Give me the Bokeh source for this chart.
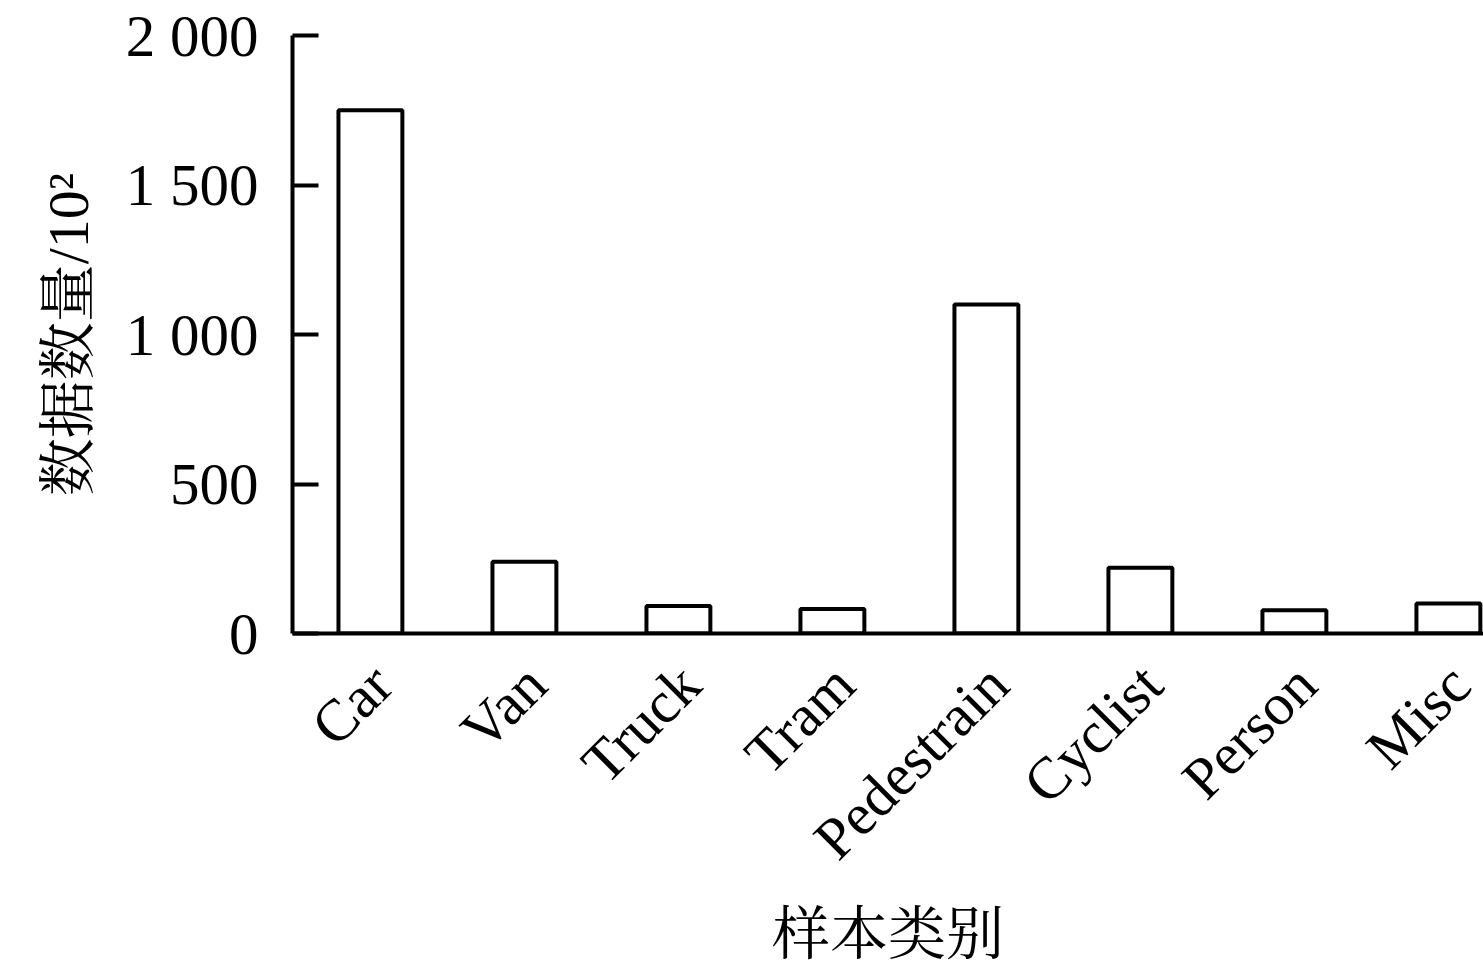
from bokeh.plotting import figure
from bokeh.models import Range1d, FixedTicker, ColumnDataSource
from bokeh.embed import file_html
from bokeh.resources import INLINE
import math

categories = ["Car", "Van", "Truck", "Tram", "Pedestrain", "Cyclist", "Person", "Misc"]
counts = [1750, 240, 92, 82, 1100, 220, 78, 100]
y_ticks = [0, 500, 1000, 1500, 2000]
y_tick_labels = ["0", "500", "1 000", "1 500", "2 000"]

x_pos = list(range(len(categories)))
src = ColumnDataSource(dict(x=x_pos, top=counts, name=categories))

SERIF = "Liberation Serif, Noto Serif CJK SC, Noto Sans CJK SC"
FS = "59px"

p = figure(width=1483, height=969, output_backend="svg", toolbar_location=None,
           x_range=Range1d(-0.506, 7.228), y_range=Range1d(0, 2000),
           min_border_left=292, min_border_right=0, min_border_top=35, min_border_bottom=0)
p.outline_line_color = None
p.xgrid.grid_line_color = None
p.ygrid.grid_line_color = None
p.background_fill_color = "white"
p.border_fill_color = "white"

p.vbar(x="x", top="top", bottom=0, width=0.415, source=src,
       fill_color="white", line_color="black", line_width=4)

# y axis
ya = p.yaxis[0]
ya.ticker = FixedTicker(ticks=y_ticks)
ya.major_label_overrides = {t: l for t, l in zip(y_ticks, y_tick_labels)}
ya.major_tick_in = 26
ya.major_tick_out = 0
ya.minor_tick_line_color = None
ya.axis_line_width = 4
ya.major_tick_line_width = 4
ya.major_label_text_font = SERIF
ya.major_label_text_font_size = FS
ya.major_label_text_color = "black"
ya.major_label_standoff = 34
ya.axis_label = "数据数量/10²"
ya.axis_label_text_font = SERIF
ya.axis_label_text_font_size = "58px"
ya.axis_label_text_font_style = "normal"
ya.axis_label_text_color = "black"
ya.axis_label_standoff = 22

# x axis (labels anchored slightly right of bar centres, as in the reference)
label_shift = 0.075
label_pos = [i + label_shift for i in x_pos]
xa = p.xaxis[0]
xa.ticker = FixedTicker(ticks=label_pos)
xa.major_label_overrides = {lp: c for lp, c in zip(label_pos, categories)}
xa.major_tick_line_color = None
xa.minor_tick_line_color = None
xa.axis_line_width = 4
xa.major_label_orientation = math.pi / 4
xa.major_label_text_font = SERIF
xa.major_label_text_font_size = FS
xa.major_label_text_color = "black"
xa.major_label_standoff = 35
xa.axis_label = "样本类别"
xa.axis_label_text_font = SERIF
xa.axis_label_text_font_size = "58px"
xa.axis_label_text_font_style = "normal"
xa.axis_label_text_color = "black"
xa.axis_label_standoff = 4

open("out.html", "w").write(file_html(p, INLINE))
